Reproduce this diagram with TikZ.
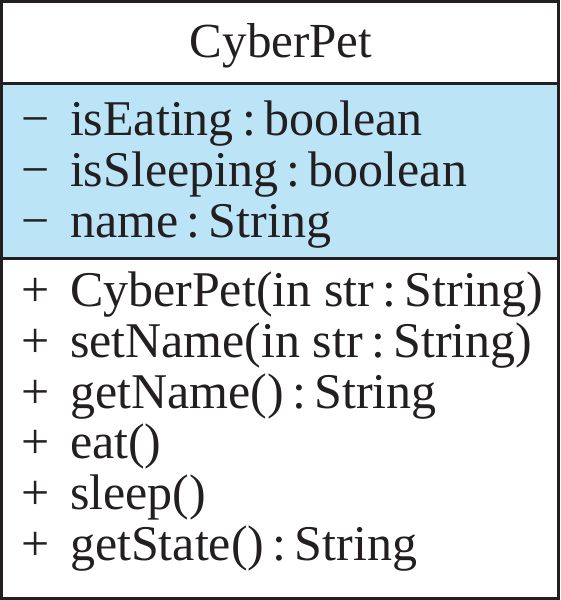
\documentclass[tikz,border=0pt]{standalone}
\usepackage{fontspec}
\setmainfont{Liberation Serif}
\definecolor{umlblue}{RGB}{187,228,247}
\definecolor{ink}{RGB}{35,31,32}
\begin{document}
\begin{tikzpicture}[x=1pt,y=1pt,
  txt/.style={anchor=base west,inner sep=0pt,outer sep=0pt,text=ink,font=\fontsize{50}{52}\selectfont},
  sign/.style={txt,font=\fontsize{50}{52}\selectfont},
  frame/.style={draw=ink,line width=3pt}]
\useasboundingbox (0,0) rectangle (560,-600);
% compartments
\fill[umlblue] (0,-83) rectangle (560,-258);
\draw[frame] (1.5,-1.5) rectangle (558.5,-598.5);
\draw[frame] (0,-83) -- (560,-83);
\draw[frame] (0,-258) -- (560,-258);
% title
\node[txt,anchor=base,font=\fontsize{49}{51}\selectfont] (title) at (281,-57) {CyberPet};
% attributes
\node[sign] (s1) at (21,-135) {−};
\node[txt] (a1) at (70,-135) {isEating\,:\,boolean};
\node[sign] (s2) at (21,-186) {−};
\node[txt] (a2) at (70,-186) {isSleeping\,:\,boolean};
\node[sign] (s3) at (21,-237) {−};
\node[txt] (a3) at (70,-237) {name\,:\,String};
% methods
\node[sign] (p1) at (21,-306) {+};
\node[txt] (m1) at (70,-306) {CyberPet(in str\,:\,String)};
\node[sign] (p2) at (21,-357) {+};
\node[txt] (m2) at (70,-357) {setName(in str\,:\,String)};
\node[sign] (p3) at (21,-408) {+};
\node[txt] (m3) at (70,-408) {getName()\,:\,String};
\node[sign] (p4) at (21,-458) {+};
\node[txt] (m4) at (70,-458) {eat()};
\node[sign] (p5) at (21,-509) {+};
\node[txt] (m5) at (70,-509) {sleep()};
\node[sign] (p6) at (21,-560) {+};
\node[txt] (m6) at (70,-560) {getState()\,:\,String};
\end{tikzpicture}
\end{document}
